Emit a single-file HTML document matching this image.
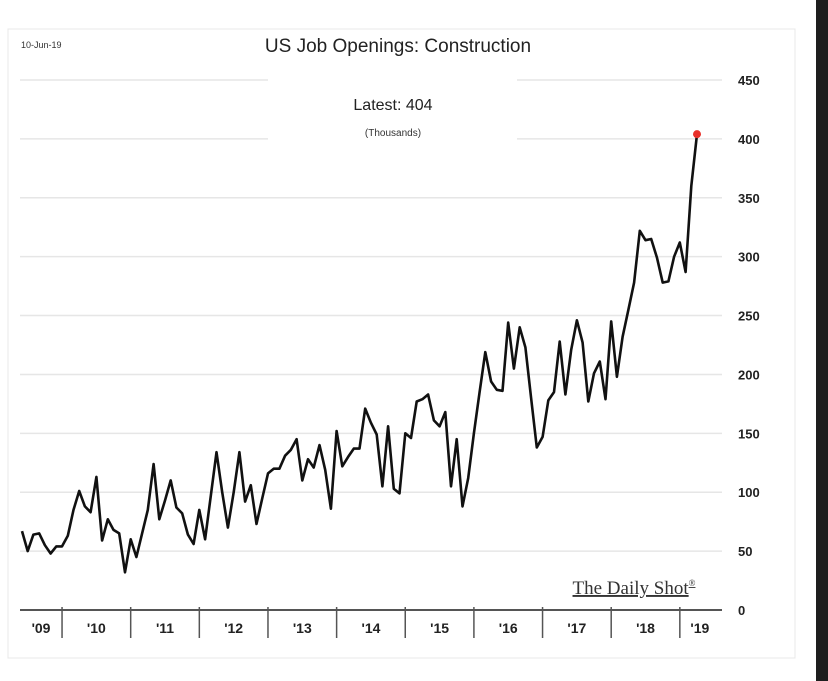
<!DOCTYPE html>
<html><head><meta charset="utf-8"><style>
html,body{margin:0;padding:0;background:#fff;}
svg{display:block;font-family:"Liberation Sans",sans-serif;}
</style></head><body>
<svg id="chart" width="828" height="681" viewBox="0 0 828 681" xmlns="http://www.w3.org/2000/svg">
<rect x="0" y="0" width="828" height="681" fill="#fff"/>
<rect x="816" y="0" width="12" height="681" fill="#1e1e1e"/>
<rect x="8" y="29" width="787" height="629" fill="#fff" stroke="#e8e8e8" stroke-width="1"/>
<text x="21" y="48" font-size="9" fill="#333">10-Jun-19</text>
<text x="398" y="52" font-size="19" text-anchor="middle" fill="#222">US Job Openings: Construction</text>
<text x="393" y="110" font-size="16" text-anchor="middle" fill="#222">Latest:  404</text>
<text x="393" y="136" font-size="10" text-anchor="middle" fill="#333">(Thousands)</text>
<g id="grid"></g>
<g id="xaxis"></g>
<g id="series"></g>
<text x="634" y="594" font-family="Liberation Serif, serif" font-size="19" text-anchor="middle" fill="#333" text-decoration="underline">The Daily Shot<tspan font-size="9" dy="-8">®</tspan></text>
</svg>
<script>
const yTicks = [0,50,100,150,200,250,300,350,400,450];
const yearLabels = ["'09","'10","'11","'12","'13","'14","'15","'16","'17","'18","'19"];
const startMonth = 5; // June 2009 (0-based month)
const values = [67,50,64,65,55,48,54,54,63,85,101,88,83,113,59,77,68,65,32,60,45,65,85,124,77,93,110,87,82,64,56,85,60,97,134,100,70,100,134,92,106,73,95,116,120,120,131,136,145,110,128,121,140,119,86,152,122,130,137,137,171,159,149,105,156,103,99,150,146,177,179,183,161,156,168,105,145,88,112,150,185,219,194,187,186,244,205,240,223,180,138,147,178,185,228,183,221,246,227,177,201,211,179,245,198,232,255,278,322,314,315,299,278,279,300,312,287,360,404];
const NS="http://www.w3.org/2000/svg";
const x0=22, xEnd=697, plotL=20, plotR=722;
const n=values.length;
function xScale(i){return x0+(xEnd-x0)*i/(n-1);}
function yScale(v){return 610-v*(530/450);}
function mk(tag,attrs,parent){const e=document.createElementNS(NS,tag);for(const k in attrs)e.setAttribute(k,attrs[k]);parent.appendChild(e);return e;}
const grid=document.getElementById('grid');
yTicks.forEach(t=>{
  const y=yScale(t);
  if(t>0){
    if(t>=400){
      const a=mk('line',{x1:plotL,x2:268,y1:y,y2:y,stroke:'#e6e6e6','stroke-width':1.5},grid);
      
      
      const b=mk('line',{x1:517,x2:plotR,y1:y,y2:y,stroke:'#e6e6e6','stroke-width':1.5},grid);
      
      
    } else {
      const l=mk('line',{x1:plotL,x2:plotR,y1:y,y2:y,stroke:'#e6e6e6','stroke-width':1.5},grid);
      
      
    }
  }
  const tx=mk('text',{x:738,y:y+5,'font-size':13,'font-weight':'bold',fill:'#222'},grid);
  tx.textContent=t;
  
  
});
const xa=document.getElementById('xaxis');
const ax=mk('line',{x1:plotL,x2:plotR,y1:610,y2:610,stroke:'#555','stroke-width':2},xa);


yearLabels.forEach((lab,k)=>{
  const iStart=k===0?-startMonth:12*k-startMonth;
  const iEnd=12*(k+1)-startMonth;
  if(k>0){
    const xt=xScale(iStart);
    const tk=mk('line',{x1:xt,x2:xt,y1:607,y2:638,stroke:'#555','stroke-width':1.5},xa);
    
    
  }
  let a=Math.max(plotL,xScale(iStart)), b=Math.min(plotR-20,xScale(iEnd));
  if(k===yearLabels.length-1) b=xScale(iStart)+40;
  const t=mk('text',{x:(a+b)/2,y:633,'font-size':14,'font-weight':'bold','text-anchor':'middle',fill:'#222'},xa);
  t.textContent=lab;
  
  
});
const s=document.getElementById('series');
const pts=values.map((v,i)=>xScale(i).toFixed(1)+','+yScale(v).toFixed(1)).join(' ');
const pl=mk('polyline',{points:pts,fill:'none',stroke:'#111','stroke-width':2.6,'stroke-linejoin':'round'},s);


const dot=mk('circle',{cx:xScale(n-1),cy:yScale(values[n-1]),r:4,fill:'#e8302a'},s);


</script>
</body></html>
